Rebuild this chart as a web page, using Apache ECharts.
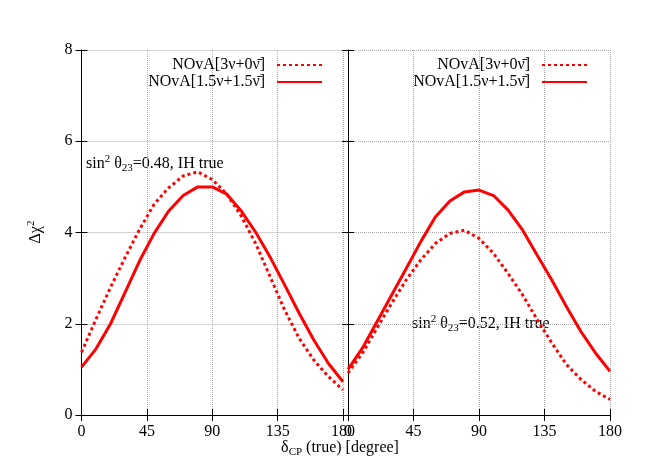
<!DOCTYPE html>
<html>
<head>
<meta charset="utf-8">
<script src="https://cdn.jsdelivr.net/npm/echarts@6/dist/echarts.min.js"></script>
<style>html,body{margin:0;padding:0;background:#fff;}#c{width:664px;height:465px;}</style>
</head>
<body>
<div id="c"></div>
<script>
// delta_CP (true) in degrees
var deltaCP = [0,10,20,30,40,50,60,70,80,90,100,110,120,130,140,150,160,170,180];
// Left panel: sin^2 theta23 = 0.48, IH true
var leftDashed = [1.38,2.10,2.80,3.45,4.07,4.62,4.98,5.24,5.33,5.16,4.84,4.36,3.75,3.02,2.29,1.67,1.20,0.84,0.55];
var leftSolid  = [1.05,1.45,2.00,2.69,3.38,3.98,4.47,4.81,5.00,5.00,4.84,4.47,4.00,3.45,2.84,2.22,1.64,1.13,0.73];
// Right panel: sin^2 theta23 = 0.52, IH true
var rightDashed = [0.92,1.36,1.91,2.45,2.96,3.40,3.76,3.98,4.05,3.87,3.54,3.10,2.63,2.09,1.58,1.11,0.78,0.52,0.34];
var rightSolid  = [1.00,1.47,2.05,2.63,3.21,3.80,4.34,4.69,4.89,4.93,4.81,4.49,4.05,3.50,2.96,2.38,1.83,1.36,0.96];
var xTicks = [0,45,90,135,180];
var yTicks = [0,2,4,6,8];
var nameDashed = 'NOvA[3\u03BD+0\u03BD\u0304]';
var nameSolid = 'NOvA[1.5\u03BD+1.5\u03BD\u0304]';
var note1 = ['0.48', 'IH true'];
var note2 = ['0.52', 'IH true'];

var FONT = 'Liberation Serif';
function pairs(xs, ys){ return xs.map(function(x,i){ return [x, ys[i]]; }); }

function xAx(grid, bottom){
  return {
    type:'value', gridIndex:grid, min:xTicks[0], max:xTicks[xTicks.length-1], interval:45,
    position: bottom ? 'bottom' : 'top',
    axisLine:{show:true, lineStyle:{color:'#000', width:1}},
    axisTick:{show:true, inside:true, length:6, lineStyle:{color:'#000'}},
    axisLabel:{show:bottom, margin:9, fontFamily:FONT, fontSize:16, color:'#000'},
    splitLine:{show:bottom, lineStyle:{color:'#a8a8a8', type:'dotted', width:1}}
  };
}
function yAx(grid, left, labels){
  return {
    type:'value', gridIndex:grid, min:yTicks[0], max:yTicks[yTicks.length-1], interval:2,
    position: left ? 'left' : 'right',
    axisLine:{show:true, lineStyle:{color:'#000', width:1}},
    axisTick:{show:true, inside:true, length:6, lineStyle:{color:'#000'}},
    axisLabel:{show:labels, margin:9, fontFamily:FONT, fontSize:16, color:'#000'},
    splitLine:{show:left, lineStyle:{color:'#a8a8a8', type:'dotted', width:1}}
  };
}
function ser(name, xi, data, dashed){
  return {
    name:name, type:'line', xAxisIndex:xi, yAxisIndex:xi, data:data, symbol:'none',
    lineStyle:{color:'#ff0000', width:3, type: dashed ? [3,3] : 'solid'},
    itemStyle:{color:'#ff0000'}, z: dashed ? 3 : 2, animation:false
  };
}
function legend(right){
  return {
    orient:'vertical', right:right, top:57, padding:0, align:'right', itemWidth:45, itemHeight:10, itemGap:1,
    selectedMode:false, data:[nameDashed, nameSolid],
    itemStyle:{opacity:0},
    textStyle:{fontFamily:FONT, fontSize:16, color:'#000', lineHeight:16, padding:[0,7,0,0]}
  };
}
var rich = {
  n:{fontFamily:FONT, fontSize:16, color:'#000', lineHeight:24, verticalAlign:'middle'},
  sup:{fontFamily:FONT, fontSize:11, color:'#000', lineHeight:24, verticalAlign:'top', padding:[2,0,0,0]},
  sub:{fontFamily:FONT, fontSize:11, color:'#000', lineHeight:24, verticalAlign:'bottom', padding:[0,0,2,0]}
};
function noteText(v){ return '{n|sin}{sup|2}{n| \u03B8}{sub|23}{n|=' + v[0] + ', ' + v[1] + '}'; }

var chart = echarts.init(document.getElementById('c'), null, {renderer:'canvas'});
chart.setOption({
  animation:false,
  backgroundColor:'#fff',
  grid:[
    {left:81.5, top:50, width:261.5, height:365, show:false},
    {left:348, top:50, width:262, height:365, show:false}
  ],
  xAxis:[xAx(0,true), xAx(1,true), xAx(0,false), xAx(1,false)],
  yAxis:[yAx(0,true,true), yAx(1,true,false), yAx(0,false,false), yAx(1,false,false)],
  legend:[legend(341), legend(76)],
  series:[
    ser(nameDashed, 0, pairs(deltaCP, leftDashed), true),
    ser(nameSolid, 0, pairs(deltaCP, leftSolid), false),
    ser(nameDashed, 1, pairs(deltaCP, rightDashed), true),
    ser(nameSolid, 1, pairs(deltaCP, rightSolid), false)
  ],
  graphic:[
    {type:'text', left:86, top:152, style:{text:noteText(note1), rich:rich}},
    {type:'text', left:412, top:312, style:{text:noteText(note2), rich:rich}},
    {type:'text', x:340, y:448, style:{text:'{n|\u03B4}{sub|CP}{n| (true) [degree]}', align:'center', verticalAlign:'middle', rich:rich}},
    {type:'text', x:36, y:232, rotation:Math.PI/2, style:{text:'{n|\u0394\u03C7}{sup|2}', align:'center', verticalAlign:'middle', rich:rich}}
  ]
});
</script>
</body>
</html>
